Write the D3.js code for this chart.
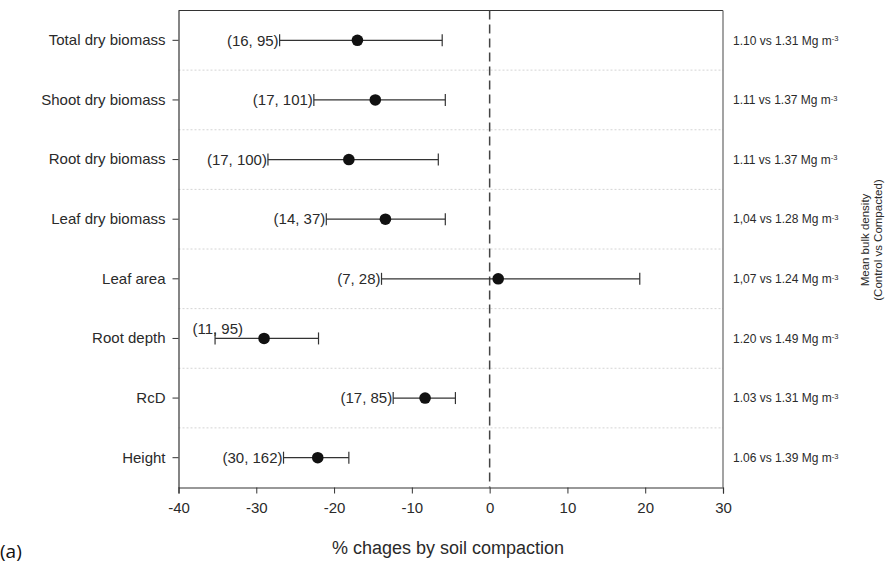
<!DOCTYPE html>
<html>
<head>
<meta charset="utf-8">
<script src="https://cdn.jsdelivr.net/npm/d3@7/dist/d3.min.js"></script>
<style>
  html, body { margin: 0; padding: 0; background: #fff; }
  svg { display: block; font-family: Arial, "Liberation Sans", sans-serif; }
</style>
</head>
<body>
<svg id="chart" width="885" height="563"></svg>
<script>
// ---- data ----
const categories = ["Total dry biomass", "Shoot dry biomass", "Root dry biomass", "Leaf dry biomass",
                    "Leaf area", "Root depth", "RcD", "Height"];
const means = [-17.0, -14.7, -18.1, -13.4, 1.1, -29.0, -8.3, -22.1];
const lowerCI = [-27.0, -22.6, -28.5, -21.0, -13.9, -35.3, -12.4, -26.5];
const upperCI = [-6.1, -5.7, -6.6, -5.7, 19.3, -22.0, -4.4, -18.1];
const counts = ["(16, 95)", "(17, 101)", "(17, 100)", "(14, 37)", "(7, 28)", "(11, 95)", "(17, 85)", "(30, 162)"];
const densityControl = ["1.10", "1.11", "1.11", "1,04", "1,07", "1.20", "1.03", "1.06"];
const densityCompacted = ["1.31", "1.37", "1.37", "1.28", "1.24", "1.49", "1.31", "1.39"];
const xTicks = [-40, -30, -20, -10, 0, 10, 20, 30];

(function () {
// ---- layout ----
const svg = d3.select("#chart");
const pL = 178.5, pR = 723, pT = 10.5, pB = 487.5;
const x = d3.scaleLinear().domain([-40, 30]).range([pL, pR]);
const y = d3.scaleBand().domain(categories).range([pT, pB]).padding(0);
const yc = c => y(c) + y.bandwidth() / 2;
const textCol = "#2a2a2a";
const lineCol = "#333";
const FONT = "Arial, 'Liberation Sans', sans-serif";

// gridlines (dotted between categories)
svg.append("g").selectAll("line")
  .data(categories.slice(1))
  .join("line")
  .attr("x1", pL).attr("x2", pR)
  .attr("y1", d => y(d)).attr("y2", d => y(d))
  .attr("stroke", "#d4d4d4").attr("stroke-width", 1)
  .attr("stroke-dasharray", "2,2");

// frame top & right
svg.append("line").attr("x1", pL).attr("x2", pR).attr("y1", pT).attr("y2", pT)
  .attr("stroke", lineCol).attr("stroke-width", 1.2);
svg.append("line").attr("x1", pR).attr("x2", pR).attr("y1", pT).attr("y2", pB)
  .attr("stroke", "#666").attr("stroke-width", 1.2);

// x axis
const xAxis = svg.append("g").attr("transform", `translate(0,${pB})`)
  .call(d3.axisBottom(x).tickValues(xTicks).tickSize(6).tickPadding(9).tickFormat(d => String(d)));
xAxis.select(".domain").attr("stroke", lineCol).attr("stroke-width", 1.2);
xAxis.selectAll(".tick line").attr("stroke", lineCol);
xAxis.selectAll("text").attr("fill", textCol).style("font-size", "15px").style("font-family", FONT);

// y axis
const yAxis = svg.append("g").attr("transform", `translate(${pL},0)`)
  .call(d3.axisLeft(y).tickSize(6).tickPadding(7).tickSizeOuter(0));
yAxis.select(".domain").attr("stroke", lineCol).attr("stroke-width", 1.2);
yAxis.selectAll(".tick line").attr("stroke", lineCol);
yAxis.selectAll("text").attr("fill", textCol).style("font-size", "15px").style("font-family", FONT);

// zero reference line
svg.append("line").attr("x1", x(0)).attr("x2", x(0)).attr("y1", pT).attr("y2", pB)
  .attr("stroke", "#444").attr("stroke-width", 1.5).attr("stroke-dasharray", "9,5");

// error bars
const rows = categories.map((c, i) => ({c, m: means[i], lo: lowerCI[i], hi: upperCI[i], n: counts[i],
  dc: densityControl[i], dk: densityCompacted[i]}));
const g = svg.append("g");
g.selectAll("line.bar").data(rows).join("line").attr("class", "bar")
  .attr("x1", d => x(d.lo)).attr("x2", d => x(d.hi))
  .attr("y1", d => yc(d.c)).attr("y2", d => yc(d.c))
  .attr("stroke", lineCol).attr("stroke-width", 1.2);
g.selectAll("line.capL").data(rows).join("line").attr("class", "capL")
  .attr("x1", d => x(d.lo)).attr("x2", d => x(d.lo))
  .attr("y1", d => yc(d.c) - 6).attr("y2", d => yc(d.c) + 6)
  .attr("stroke", lineCol).attr("stroke-width", 1.2);
g.selectAll("line.capR").data(rows).join("line").attr("class", "capR")
  .attr("x1", d => x(d.hi)).attr("x2", d => x(d.hi))
  .attr("y1", d => yc(d.c) - 6).attr("y2", d => yc(d.c) + 6)
  .attr("stroke", lineCol).attr("stroke-width", 1.2);
g.selectAll("circle").data(rows).join("circle")
  .attr("cx", d => x(d.m)).attr("cy", d => yc(d.c)).attr("r", 5.8)
  .attr("fill", "#111");

// count labels
g.selectAll("text.n").data(rows).join("text").attr("class", "n")
  .attr("x", d => d.c === "Root depth" ? x(d.lo) + 28 : x(d.lo) - 1)
  .attr("y", d => d.c === "Root depth" ? yc(d.c) - 10 : yc(d.c))
  .attr("dy", "0.35em")
  .attr("text-anchor", "end")
  .attr("fill", textCol).style("font-size", "15px")
  .text(d => d.n);

// right-hand density labels
const rt = svg.append("g").selectAll("text").data(rows).join("text")
  .attr("x", 733).attr("y", d => yc(d.c)).attr("dy", "0.35em")
  .attr("fill", textCol).style("font-size", "12px");
rt.append("tspan").text(d => `${d.dc} vs ${d.dk} Mg m`);
rt.append("tspan").attr("dy", "-0.45em").style("font-size", "7.5px").text("-3");

// right-hand rotated title
const rtitle = svg.append("text")
  .attr("transform", `translate(869,240) rotate(-90)`)
  .attr("text-anchor", "middle").attr("fill", textCol).style("font-size", "11.5px");
rtitle.append("tspan").attr("x", 0).attr("dy", 0).text("Mean bulk density");
rtitle.append("tspan").attr("x", 0).attr("dy", "1.1em").text("(Control vs Compacted)");

// x-axis title
svg.append("text").attr("x", 448).attr("y", 554).attr("text-anchor", "middle")
  .attr("fill", textCol).style("font-size", "18px").text("% chages by soil compaction");

// panel label
svg.append("text").attr("x", 0).attr("y", 558)
  .attr("fill", "#111").style("font-size", "19px")
  .style("font-family", "'Open Sans', 'Noto Sans', sans-serif").text("(a)");
})();
</script>
</body>
</html>
